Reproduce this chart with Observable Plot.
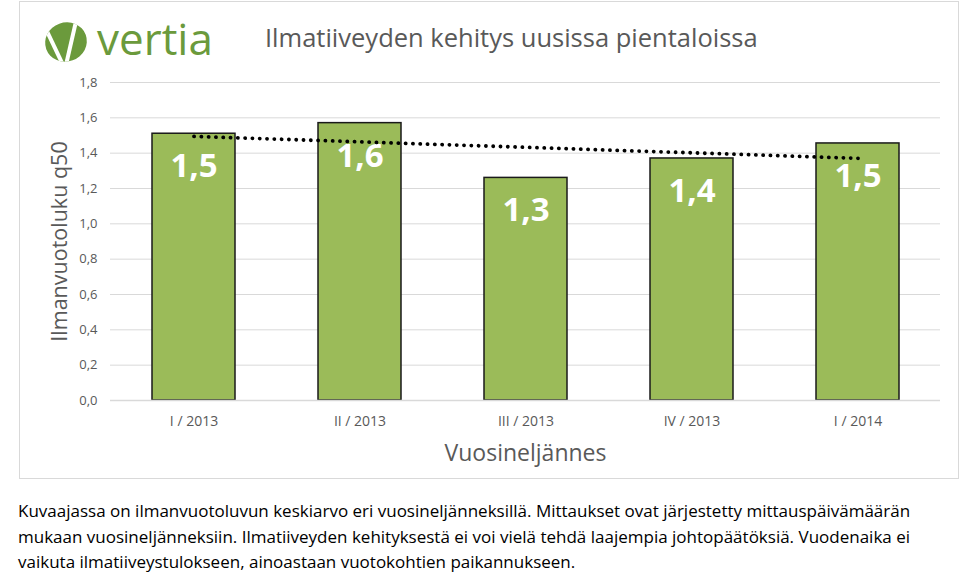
<!DOCTYPE html>
<html>
<head>
<meta charset="utf-8">
<script src="https://cdn.jsdelivr.net/npm/d3@7"></script>
<script src="https://cdn.jsdelivr.net/npm/@observablehq/plot@0.6"></script>
<style>
  html, body { margin: 0; padding: 0; background: #fff; }
  body { width: 960px; height: 574px; position: relative; overflow: hidden;
         font-family: "Open Sans", sans-serif; }
  #box { position: absolute; left: 19px; top: 1px; width: 938px; height: 476px;
         border: 1px solid #d9d9d9; }
  #chart { position: absolute; left: 0; top: 0; }
  #logo { position: absolute; left: 40px; top: 16px; overflow: visible; }
  #title { position: absolute; left: 265px; top: 20px; font-size: 25.5px; color: #595959; white-space: nowrap; }
  #caption { position: absolute; left: 18px; top: 498px; width: 940px; font-size: 17px; line-height: 25.5px; color: #000; }
</style>
</head>
<body>
<div id="box"></div>
<div id="chart"></div>
<svg id="logo" width="190" height="60" viewBox="0 0 190 60">
  <defs><clipPath id="blob"><ellipse cx="26" cy="26" rx="21" ry="19.5" transform="rotate(-20 26 26)"/></clipPath></defs>
  <g clip-path="url(#blob)">
    <rect x="0" y="0" width="60" height="55" fill="#6b9a3c"/>
    <line x1="5" y1="11" x2="23" y2="49" stroke="#fff" stroke-width="4"/>
    <line x1="37" y1="1" x2="26" y2="49" stroke="#fff" stroke-width="4"/>
  </g>
  <text x="57" y="39" font-size="44" fill="#6b9a3c" font-family="Open Sans, sans-serif">vertia</text>
</svg>
<div id="title">Ilmatiiveyden kehitys uusissa pientaloissa</div>
<div id="caption">Kuvaajassa on ilmanvuotoluvun keskiarvo eri vuosineljänneksillä. Mittaukset ovat järjestetty mittauspäivämäärän mukaan vuosineljänneksiin. Ilmatiiveyden kehityksestä ei voi vielä tehdä laajempia johtopäätöksiä. Vuodenaika ei vaikuta ilmatiiveystulokseen, ainoastaan vuotokohtien paikannukseen.</div>
<script>
const quarters = ["I / 2013", "II / 2013", "III / 2013", "IV / 2013", "I / 2014"];
const values = [1.51, 1.57, 1.26, 1.37, 1.455];
const yTicks = [0, 0.2, 0.4, 0.6, 0.8, 1.0, 1.2, 1.4, 1.6, 1.8];

const data = quarters.map((q, i) => ({q, v: values[i]}));
// linear trend (least squares) over quarter index
const n = values.length;
const mx = d3.mean(values, (_, i) => i), my = d3.mean(values);
const slope = d3.sum(values, (v, i) => (i - mx) * (v - my)) / d3.sum(values, (_, i) => (i - mx) ** 2);
const trend = [0, n - 1].map(i => ({q: quarters[i], v: my + slope * (i - mx)}));
const fmt = v => v.toFixed(1).replace(".", ",");

const font = "Open Sans, sans-serif";
const chart = Plot.plot({
  width: 960, height: 480,
  marginLeft: 110, marginRight: 20, marginTop: 82, marginBottom: 80,
  style: {fontFamily: font, background: "transparent", color: "#595959"},
  x: {domain: quarters, paddingInner: 0.5, paddingOuter: 0.25, label: null},
  y: {domain: [0, 1.8], label: null},
  marks: [
    Plot.gridY(yTicks, {stroke: "#d9d9d9", strokeOpacity: 1}),
    Plot.axisY(yTicks, {tickSize: 0, tickPadding: 13, fontSize: 13, tickFormat: fmt, label: null, fill: "#595959"}),
    Plot.axisX({tickSize: 0, tickPadding: 16, fontSize: 14, label: null, fill: "#595959"}),
    Plot.barY(data, {x: "q", y: "v", fill: "#9bbb59", stroke: "#1a1a1a", strokeWidth: 1.5}),
    Plot.ruleY([0], {stroke: "#d9d9d9", strokeWidth: 1.5}),
    Plot.text(data, {x: "q", y: "v", text: d => fmt(d.v), dy: 33, fill: "#fff", fontSize: 33, fontWeight: "bold", lineAnchor: "middle"}),
    Plot.line(trend, {x: "q", y: "v", stroke: "#000", strokeWidth: 3.8, strokeDasharray: "0.1 7.2", strokeLinecap: "round"}),
    Plot.text(["Ilmanvuotoluku q50"], {frameAnchor: "left", rotate: -90, dx: -50, textAnchor: "middle", lineAnchor: "middle", fontSize: 21.5, fill: "#595959"}),
    Plot.text(["Vuosineljännes"], {frameAnchor: "bottom", dy: 53, textAnchor: "middle", lineAnchor: "middle", fontSize: 23, fill: "#595959"})
  ]
});
document.getElementById("chart").appendChild(chart);
</script>
</body>
</html>
